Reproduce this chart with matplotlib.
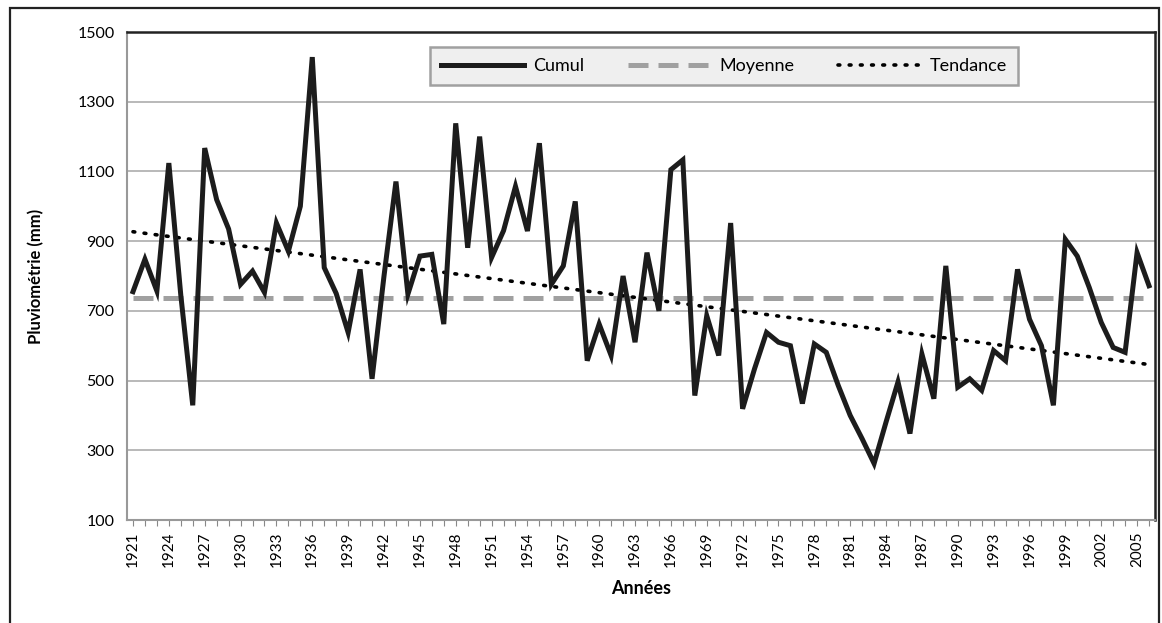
import matplotlib.pyplot as plt
from matplotlib.patches import Rectangle

plt.rcParams['font.family'] = ['Lato', 'DejaVu Sans']

# annual rainfall (mm)
years = list(range(1921, 2007))
cumul = [755, 848, 757, 1124, 745, 429, 1167, 1019, 935, 776,
         814, 753, 952, 871, 1000, 1428, 824, 750, 638, 819,
         505, 800, 1071, 748, 857, 862, 662, 1238, 881, 1200,
         853, 930, 1057, 929, 1181, 776, 829, 1014, 557, 662,
         572, 800, 610, 867, 700, 1105, 1133, 457, 686, 572,
         952, 419, 534, 638, 610, 600, 434, 605, 581, 486,
         400, 333, 262, 381, 496, 348, 576, 448, 829, 481,
         505, 472, 586, 557, 819, 676, 600, 429, 905, 857,
         767, 667, 595, 581, 867, 772]
moyenne = 738
tendance = [927, 546]  # trend line at first and last year
yticks = list(range(100, 1501, 200))

x = list(range(len(years)))

fig = plt.figure(figsize=(11.62, 6.23), dpi=100)
ax = fig.add_axes([127/1162, 1-520/623, 1028/1162, 488/623])

for v in yticks:
    ax.axhline(v, color='#a6a6a6', lw=1.1, zorder=1)

ax.plot([x[0], x[-1]], [moyenne, moyenne], color='#a0a0a0', lw=3.6,
        dashes=(4, 2), label='Moyenne', zorder=2)
ax.plot([x[0], x[-1]], tendance, color='black', lw=2.6,
        dashes=(0.5, 2.6), dash_capstyle='round', label='Tendance', zorder=3)
ax.plot(x, cumul, color='#1c1c1c', lw=3.6, solid_joinstyle='miter',
        label='Cumul', zorder=4)

ax.set_xlim(-0.5, len(years) - 0.5)
ax.set_ylim(100, 1500)
ax.set_yticks(yticks)
ax.set_xticks(x)
ax.set_xticklabels([str(y) if (y - 1921) % 3 == 0 else '' for y in years],
                   rotation=90, fontsize=11)
ax.tick_params(axis='y', length=0, labelsize=11.5, pad=9)
ax.tick_params(axis='x', length=4, color='#888888', pad=4)

ax.spines['left'].set_color('#999999')
ax.spines['bottom'].set_color('#999999')
ax.spines['left'].set_linewidth(1.5)
ax.spines['bottom'].set_linewidth(1.5)
ax.spines['top'].set_color('#222222')
ax.spines['right'].set_color('#222222')
ax.spines['top'].set_linewidth(1.8)
ax.spines['right'].set_linewidth(1.8)

ax.set_ylabel('Pluviométrie (mm)', fontsize=12, fontweight='bold', labelpad=24)
ax.set_xlabel('Années', fontsize=13, fontweight='bold', labelpad=10)

h, l = ax.get_legend_handles_labels()
order = [2, 0, 1]
leg = ax.legend([h[i] for i in order], [l[i] for i in order], ncol=3,
                loc='upper center', bbox_to_anchor=(0.581, 0.98),
                fontsize=13, handlelength=4.6, columnspacing=2.4,
                handletextpad=0.5, frameon=True, fancybox=False,
                borderpad=0.6, borderaxespad=0.3)
leg.get_frame().set_facecolor('#efefef')
leg.get_frame().set_edgecolor('#a0a0a0')
leg.get_frame().set_linewidth(1.8)
leg.get_frame().set_alpha(1)

fig.patches.append(Rectangle((10/1162, -0.02), 1149/1162, 1.02 - 8/623,
                             transform=fig.transFigure, fill=False,
                             edgecolor='#222222', lw=1.6))

fig.savefig('out.png', dpi=100)
